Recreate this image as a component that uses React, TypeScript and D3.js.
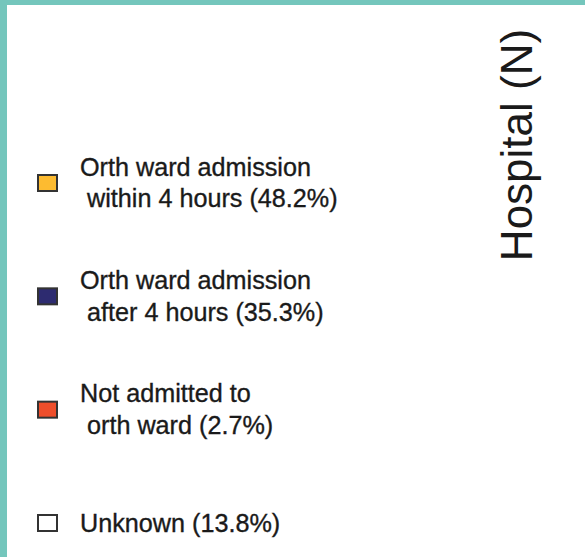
import { useRef, useEffect } from "react";
import * as d3 from "d3";

const categories = [
  "Orth ward admission within 4 hours",
  "Orth ward admission after 4 hours",
  "Not admitted to orth ward",
  "Unknown",
];
const labelLines = [
  ["Orth ward admission", " within 4 hours (48.2%)"],
  ["Orth ward admission", " after 4 hours (35.3%)"],
  ["Not admitted to", " orth ward (2.7%)"],
  ["Unknown (13.8%)"],
];
const shares = [48.2, 35.3, 2.7, 13.8];
const swatchColors = ["#FDBB30", "#2D2B70", "#EF4E2B", "#FFFFFF"];
const axisTitle = "Hospital (N)";

const W = 585;
const H = 557;

export default function App() {
  const svgRef = useRef<SVGSVGElement>(null);

  useEffect(() => {
    if (!svgRef.current) return;
    const svg = d3.select(svgRef.current);
    svg.selectAll("*").remove();

    const font = "'Liberation Sans', Arial, Helvetica, sans-serif";

    // page background and teal frame
    svg.append("rect").attr("width", W).attr("height", H).attr("fill", "#fff");
    svg.append("rect").attr("x", 0).attr("y", 0).attr("width", W).attr("height", 5).attr("fill", "#74C6BC");
    svg.append("rect").attr("x", 0).attr("y", 0).attr("width", 7).attr("height", H).attr("fill", "#74C6BC");

    const color = d3.scaleOrdinal<string>().domain(categories).range(swatchColors);
    const y = d3.scalePoint<string>().domain(categories).range([183, 523]);

    const lineH = 31.5;
    const fontSize = 25.2;

    const items = svg
      .selectAll(".item")
      .data(categories)
      .enter()
      .append("g")
      .attr("class", "item")
      .attr("transform", (d) => `translate(0,${y(d)})`);

    items
      .append("rect")
      .attr("x", 38)
      .attr("y", -8)
      .attr("width", 19)
      .attr("height", 16)
      .attr("fill", (d) => color(d))
      .attr("stroke", "#333")
      .attr("stroke-width", 2);

    items.each(function (d, i) {
      const lines = labelLines[i];
      const g = d3.select(this);
      const first = -((lines.length - 1) * lineH) / 2 + 8.5;
      const t = g
        .append("text")
        .attr("font-family", font)
        .attr("font-size", fontSize)
        .attr("fill", "#1a1a1a")
        .attr("stroke", "#1a1a1a")
        .attr("stroke-width", 0.35)
        .style("white-space", "pre");
      lines.forEach((l, j) => {
        t.append("tspan").attr("x", 80).attr("y", first + j * lineH).text(l);
      });
    });

    // rotated axis title
    svg
      .append("text")
      .attr("transform", "translate(532,145) rotate(-90)")
      .attr("text-anchor", "middle")
      .attr("font-family", font)
      .attr("font-size", 44)
      .attr("fill", "#1a1a1a")
      .text(axisTitle);

    // keep share values attached for reference
    svg.attr("data-shares", shares.join(","));
  }, []);

  return (
    <svg
      ref={svgRef}
      width={W}
      height={H}
      style={{ position: "absolute", left: 0, top: 0, display: "block" }}
      role="img"
      aria-label="Legend of orthopaedic ward admission categories"
    />
  );
}
